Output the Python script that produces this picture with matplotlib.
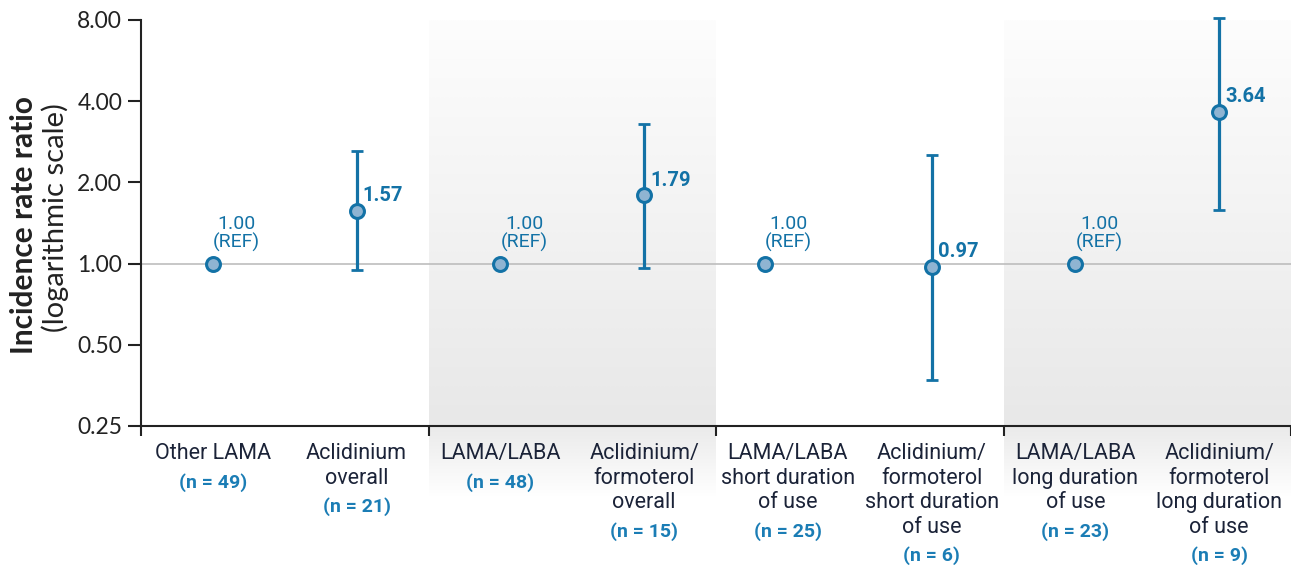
import numpy as np
import matplotlib
matplotlib.use("Agg")
import matplotlib.pyplot as plt
from matplotlib.colors import to_rgb

# ---- data -------------------------------------------------------------
categories = [
    "Other LAMA",
    "Aclidinium\noverall",
    "LAMA/LABA",
    "Aclidinium/\nformoterol\noverall",
    "LAMA/LABA\nshort duration\nof use",
    "Aclidinium/\nformoterol\nshort duration\nof use",
    "LAMA/LABA\nlong duration\nof use",
    "Aclidinium/\nformoterol\nlong duration\nof use",
]
n_patients = [49, 21, 48, 15, 25, 6, 23, 9]
irr = [1.00, 1.57, 1.00, 1.79, 1.00, 0.97, 1.00, 3.64]
ci_low = [np.nan, 0.95, np.nan, 0.96, np.nan, 0.37, np.nan, 1.58]
ci_high = [np.nan, 2.61, np.nan, 3.29, np.nan, 2.52, np.nan, 8.12]
is_reference = [True, False, True, False, True, False, True, False]

ytick_values = [0.25, 0.5, 1.0, 2.0, 4.0, 8.0]
ytick_labels = ["0.25", "0.50", "1.00", "2.00", "4.00", "8.00"]

# ---- style ------------------------------------------------------------
NARROW = ["Liberation Sans Narrow", "Roboto", "DejaVu Sans"]
REGULAR = ["Lato", "Roboto", "DejaVu Sans"]
BLUE = "#1372a6"
LABEL_BLUE = "#1b7db5"
FACE = "#8fb4d2"
NAVY = "#1b2338"
DARK = "#222222"

fig = plt.figure(figsize=(12.91, 5.65), dpi=100)
ax = fig.add_axes([141 / 1291, 1 - 426 / 565, 1 - 141 / 1291, 406 / 565])

n_cat = len(categories)
cat_x = np.arange(n_cat, dtype=float)
point_x = cat_x.copy()
point_x[4] -= 0.16

ax.set_yscale("log")
ax.set_xlim(-0.5, n_cat - 0.5)
ax.set_ylim(0.25, 8.0)

# shaded column pairs, fading out below the axis
def vgrad(c_top, c_bot, n=256):
    a, b = np.array(to_rgb(c_top)), np.array(to_rgb(c_bot))
    t = np.linspace(0, 1, n)[:, None]
    return (a * (1 - t) + b * t)[:, None, :]

xt = ax.get_xaxis_transform()
for g in (1, 3):
    x0, x1 = 2 * g - 0.5, 2 * g + 1.5
    ax.imshow(vgrad("#fdfdfd", "#e8e8e8"), extent=[x0, x1, 0, 1.0], transform=xt,
              aspect="auto", origin="upper", zorder=0, interpolation="bilinear")
    ax.imshow(vgrad("#eaeaea", "#ffffff"), extent=[x0, x1, -0.175, 0], transform=xt,
              aspect="auto", origin="upper", zorder=0, clip_on=False,
              interpolation="bilinear")
ax.set_xlim(-0.5, n_cat - 0.5)
ax.set_ylim(0.25, 8.0)

# reference line
ax.axhline(1.0, color="#b8b8b8", lw=1.1, zorder=1)

# confidence intervals
irr_a = np.array(irr)
lo = np.array(ci_low)
hi = np.array(ci_high)
mask = ~np.array(is_reference)
eb = ax.errorbar(point_x[mask], irr_a[mask],
                 yerr=[irr_a[mask] - lo[mask], hi[mask] - irr_a[mask]],
                 fmt="none", ecolor=BLUE, elinewidth=2.3, capsize=4.5,
                 capthick=2.0, zorder=3)
for art in eb.lines[1] + eb.lines[2]:
    art.set_clip_on(False)
ax.plot(point_x, irr_a, "o", ms=10, mfc=FACE, mec=BLUE, mew=2.2, ls="none",
        zorder=4, clip_on=False)

# value labels
for x, v, ref in zip(point_x, irr, is_reference):
    if ref:
        ax.annotate(f"{v:.2f}\n(REF)", xy=(x, v), xytext=(17, 8),
                    textcoords="offset points", ha="center", va="bottom",
                    color=BLUE, fontsize=14, family=NARROW, linespacing=1.0,
                    zorder=5)
    else:
        ax.annotate(f"{v:.2f}", xy=(x, v), xytext=(4.5, 11),
                    textcoords="offset points", ha="left", va="center",
                    color=BLUE, fontsize=14.5, fontweight="bold", family=NARROW,
                    zorder=5)

# axes, ticks
for s in ("top", "right"):
    ax.spines[s].set_visible(False)
for s in ("left", "bottom"):
    ax.spines[s].set_color(DARK)
    ax.spines[s].set_linewidth(1.5)

ax.set_yticks(ytick_values)
ax.set_yticklabels(ytick_labels)
ax.yaxis.set_minor_locator(matplotlib.ticker.NullLocator())
ax.tick_params(axis="y", length=9.5, width=1.5, color=DARK, pad=4,
               labelsize=16.5, labelcolor=DARK)
for lbl in ax.get_yticklabels():
    lbl.set_family(REGULAR)

ax.set_xticks(np.arange(-0.5, n_cat, 2))
ax.set_xticklabels([])
ax.tick_params(axis="x", length=7.5, width=1.5, color=DARK, direction="out")

# category labels with group sizes
for x, name, n in zip(cat_x, categories, n_patients):
    t = ax.annotate(name, xy=(x, 0), xycoords=xt, xytext=(0, -12.5),
                    textcoords="offset points", ha="center", va="top",
                    color=NAVY, fontsize=15.5, family=NARROW, linespacing=1.22,
                    annotation_clip=False)
    ax.annotate(f"(n = {n})", xy=(0.5, 0), xycoords=t, xytext=(0, -6),
                textcoords="offset points", ha="center", va="top",
                color=LABEL_BLUE, fontsize=14, fontweight="bold", family=NARROW,
                annotation_clip=False)

# y-axis title: bold first line, regular second line
fig.text(10 / 1291, 1 - 225 / 565, "Incidence rate ratio", rotation=90,
         ha="left", va="center", fontsize=21.5, fontweight="bold",
         color=DARK, family=REGULAR)
fig.text(41 / 1291, 1 - 218 / 565, "(logarithmic scale)", rotation=90,
         ha="left", va="center", fontsize=21, color=DARK, family=REGULAR)

fig.savefig("out.png", dpi=100)
